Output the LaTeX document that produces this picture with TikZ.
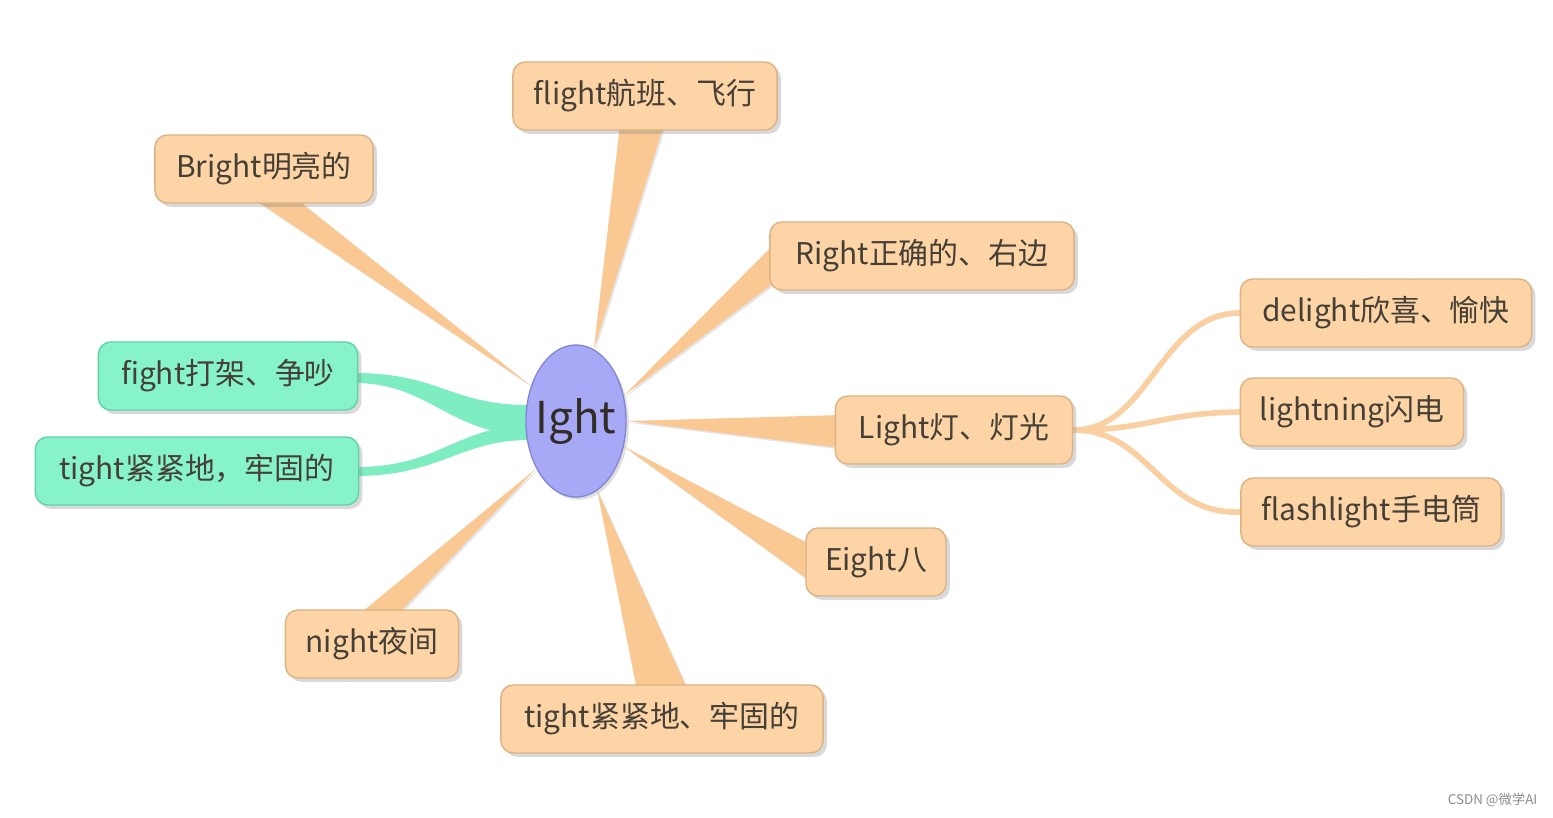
\documentclass[tikz,border=0pt]{standalone}
\usepackage{fontspec}
\setmainfont{Noto Sans CJK SC}
\usetikzlibrary{shapes.geometric,shadows,calc}
\pgfdeclarelayer{background}
\pgfsetlayers{background,main}
\definecolor{peach}{HTML}{FCD4A6}
\definecolor{peachline}{HTML}{DDB285}
\definecolor{branch}{HTML}{F9C893}
\definecolor{mint}{HTML}{86F3CB}
\definecolor{mintline}{HTML}{62D3A8}
\definecolor{ribbon}{HTML}{7EEDC2}
\definecolor{violet}{HTML}{A8A9F6}
\definecolor{violetline}{HTML}{8587D6}
\definecolor{ink}{HTML}{463F36}
\tikzset{
  leaf/.style={draw=peachline, fill=peach, rounded corners=3.5pt, minimum height=0.68cm,
    inner xsep=0pt, text=ink, font=\fontsize{8.5}{10}\selectfont,
    drop shadow={shadow xshift=1.1pt, shadow yshift=-1.1pt, opacity=0.3}},
  greenleaf/.style={leaf, draw=mintline, fill=mint},
  root/.style={ellipse, draw=violetline, fill=violet, minimum width=1cm, minimum height=1.52cm,
    inner xsep=-0.14cm, inner ysep=0pt, text=ink!70!black, font=\fontsize{12.5}{14}\selectfont,
    drop shadow={shadow xshift=0.8pt, shadow yshift=-0.8pt, opacity=0.25}},
  wedge/.style={fill=branch, drop shadow={shadow xshift=0.5pt, shadow yshift=-0.5pt, opacity=0.2}},
  twig/.style={draw=branch!85, line width=1.6pt, line cap=round}
}

\begin{document}
\begin{tikzpicture}[x=0.01cm, y=-0.01cm]
    \useasboundingbox (0,0) rectangle (1553,817);
    \node[root] (c) at (576,421) {Ight};
    % orange leaves: name/x/y/width/text
    \foreach \n/\x/\y/\w/\t in {flight/645/96/2.64/{flight航班、飞行}, Bright/264/169/2.18/{Bright明亮的},
        Right/922/256/3.04/{Right正确的、右边}, Light/954/430/2.37/{Light灯、灯光},
        Eight/876/562/1.40/{Eight八}, night/372/644/1.73/{night夜间},
        tightb/662/719/3.22/{tight紧紧地、牢固的}, delight/1386/313/2.91/{delight欣喜、愉快},
        lightning/1352/412/2.23/{lightning闪电}, flashlight/1371/512/2.60/{flashlight手电筒}}
        { \node[leaf, minimum width=\w cm] (\n) at (\x,\y) {\t}; }
    \foreach \n/\x/\y/\w/\t in {fight/228/376/2.59/{fight打架、争吵}, tightg/197/471/3.23/{tight紧紧地，牢固的}}
        { \node[greenleaf, minimum width=\w cm] (\n) at (\x,\y) {\t}; }
    \node[text=black!45, font=\fontsize{3.8}{4.5}\selectfont, anchor=east, inner sep=0pt] (mark) at (1538,800) {CSDN @微学AI};

    \begin{pgfonlayer}{background}
        % tapered branches: node/anchor/tip angle/end offsets
        \foreach \n/\s/\a/\ax/\ay/\bx/\by in {flight/south/76/-25/-6/19/-6, Bright/south/142/-12/-6/31/-6,
            Right/west/28/6/-13/6/26, Light/west/0/6/-15/6/18, Eight/west/-28/6/-17/6/20,
            tightb/north/-73/-25/6/26/6, night/north/-130/-14/6/25/6}
            { \fill[wedge] (c.\a) -- ($(\n.\s)+(\ax,\ay)$) -- ($(\n.\s)+(\bx,\by)$) -- cycle; }
        \fill[ribbon] ($(fight.east)+(-4,-3)$) .. controls (440,373) and (450,405) .. ($(c.west)+(4,-16)$)
            -- ($(c.west)+(4,14)$) .. controls (450,435) and (430,383) .. ($(fight.east)+(-4,7)$) -- cycle;
        \fill[ribbon] ($(tightg.east)+(-4,-4)$) .. controls (440,467) and (455,427) .. ($(c.west)+(4,4)$)
            -- ($(c.west)+(4,19)$) .. controls (460,440) and (440,476) .. ($(tightg.east)+(-4,5)$) -- cycle;
        \draw[twig] (Light.east) .. controls (1150,430) and (1160,313) .. (delight.west);
        \draw[twig] (Light.east) .. controls (1150,430) and (1160,413) .. (lightning.west);
        \draw[twig] (Light.east) .. controls (1150,430) and (1160,515) .. (flashlight.west);
    \end{pgfonlayer}
\end{tikzpicture}
\end{document}
